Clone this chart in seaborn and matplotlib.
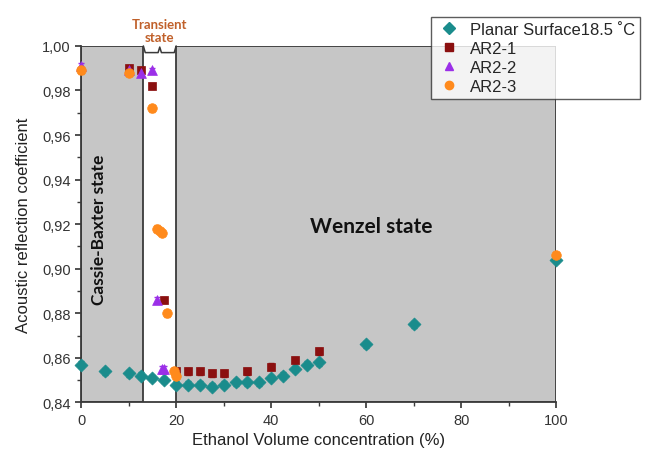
import numpy as np
import pandas as pd
import seaborn as sns
import matplotlib.pyplot as plt
from matplotlib.patches import Rectangle
from matplotlib.ticker import MultipleLocator, FuncFormatter

# Data
planar_x = [0, 5, 10, 12.5, 15, 17.5, 20, 22.5, 25, 27.5, 30, 32.5, 35, 37.5, 40, 42.5, 45, 47.5, 50, 60, 70, 100]
planar_y = [0.857, 0.854, 0.853, 0.852, 0.851, 0.850, 0.848, 0.848, 0.848, 0.847, 0.848, 0.849, 0.849, 0.849,
            0.851, 0.852, 0.855, 0.857, 0.858, 0.866, 0.875, 0.904]

ar21_x = [10, 12.5, 15, 17.5, 20, 22.5, 25, 27.5, 30, 35, 40, 45, 50]
ar21_y = [0.990, 0.989, 0.982, 0.886, 0.854, 0.854, 0.854, 0.853, 0.853, 0.854, 0.856, 0.859, 0.863]

ar22_x = [0, 10, 12.5, 15, 16, 17, 17.5]
ar22_y = [0.991, 0.989, 0.988, 0.989, 0.886, 0.855, 0.855]

ar23_x = [0, 10, 15, 16, 16.5, 17, 18, 19.5, 20, 100]
ar23_y = [0.989, 0.988, 0.972, 0.918, 0.917, 0.916, 0.880, 0.854, 0.852, 0.906]

series_names = ["Planar Surface18.5 ˚C", "AR2-1", "AR2-2", "AR2-3"]
series_err = [0.0015, 0.0015, 0.0012, 0.0015]

colors = ["#1a8c8c", "#8b1010", "#9b2fe8", "#ff8a1c"]
markers = ["D", "s", "^", "o"]
sizes = [44, 36, 50, 48]

df = pd.concat([
    pd.DataFrame({"x": planar_x, "y": planar_y, "series": series_names[0]}),
    pd.DataFrame({"x": ar21_x, "y": ar21_y, "series": series_names[1]}),
    pd.DataFrame({"x": ar22_x, "y": ar22_y, "series": series_names[2]}),
    pd.DataFrame({"x": ar23_x, "y": ar23_y, "series": series_names[3]}),
])

sns.set_theme(style="ticks")
plt.rcParams['font.family'] = ['Liberation Sans', 'DejaVu Sans']

fig = plt.figure(figsize=(6.49, 4.60), dpi=100)
ax = fig.add_axes([0.125, 0.123, 0.732, 0.775])

# background state regions
ax.add_patch(Rectangle((0, 0.84), 13.1, 0.16, facecolor="#c6c6c6", edgecolor="#3a3a3a", lw=1.3, zorder=0))
ax.add_patch(Rectangle((20, 0.84), 80, 0.16, facecolor="#c6c6c6", edgecolor="#3a3a3a", lw=1.3, zorder=0))

handles = []
for name, err, c, m, s in zip(series_names, series_err, colors, markers, sizes):
    d = df[df["series"] == name]
    ax.errorbar(d["x"], d["y"], yerr=err, fmt="none", ecolor=c, elinewidth=1, capsize=2.5, zorder=2, clip_on=False)
    sns.scatterplot(data=d, x="x", y="y", color=c, marker=m, s=s, edgecolor=c, linewidth=0.5,
                    ax=ax, zorder=3, clip_on=False, legend=False)
    handles.append(plt.Line2D([], [], ls="none", marker=m, color=c, markersize=6))

ax.set_xlim(0, 100)
ax.set_ylim(0.84, 1.00)
ax.xaxis.set_major_locator(MultipleLocator(20))
ax.xaxis.set_minor_locator(MultipleLocator(10))
ax.yaxis.set_major_locator(MultipleLocator(0.02))
ax.yaxis.set_minor_locator(MultipleLocator(0.01))
ax.yaxis.set_major_formatter(FuncFormatter(lambda v, p: f"{v:.2f}".replace(".", ",")))
ax.tick_params(which="both", direction="out", color="#3a3a3a", labelsize=10.5, labelcolor="#333333")
ax.tick_params(which="major", length=4)
ax.tick_params(which="minor", length=3)
for side in ["top", "right"]:
    ax.spines[side].set_visible(False)
for side in ["left", "bottom"]:
    ax.spines[side].set_color("#3a3a3a")
    ax.spines[side].set_linewidth(1.3)

ax.set_xlabel("Ethanol Volume concentration (%)", fontsize=12, color="#222222")
ax.set_ylabel("Acoustic reflection coefficient", fontsize=12, color="#222222", labelpad=8)

# state annotations
ax.text(3.8, 0.918, "Cassie-Baxter state", rotation=90, ha="center", va="center",
        fontsize=12.5, fontweight="bold", family=["Lato", "DejaVu Sans"], color="#111111")
ax.text(61, 0.919, "Wenzel state", ha="center", va="center",
        fontsize=15, fontweight="bold", family=["Lato", "DejaVu Sans"], color="#111111")

# transient bracket and label
bx = [13.1, 13.5, 16.2, 16.55, 16.9, 19.6, 20]
by = [1.0, 0.997, 0.997, 0.9995, 0.997, 0.997, 1.0]
ax.plot(bx, by, color="#3a3a3a", lw=1.1, clip_on=False, zorder=4)
ax.text(16.55, 1.0015, "Transient\nstate", ha="center", va="bottom", linespacing=1.05,
        fontsize=9.5, fontweight="bold", family=["Lato", "DejaVu Sans"], color="#c0602a")

leg = fig.legend(handles, series_names, loc="upper left", bbox_to_anchor=(0.652, 0.98),
                 frameon=True, fancybox=False, edgecolor="#333333", fontsize=12,
                 handletextpad=0.5, labelspacing=0.25, borderpad=0.3, handlelength=1.5)
leg.get_frame().set_linewidth(1.0)

fig.savefig("out.png", dpi=100)
